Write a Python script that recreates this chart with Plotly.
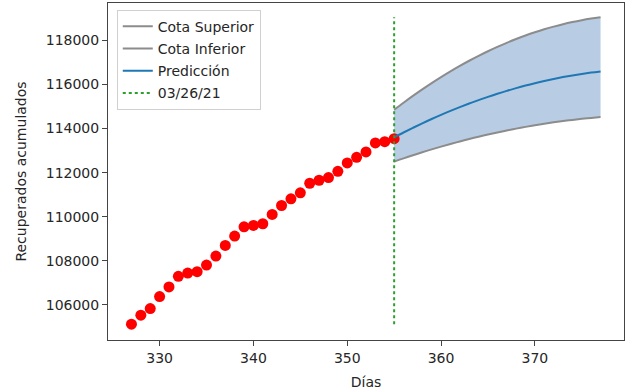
import plotly.graph_objects as go

# Observed data
dias = list(range(327, 356))
recuperados = [105117, 105525, 105828, 106371, 106807, 107291, 107441, 107504,
               107803, 108210, 108695, 109116, 109540, 109600, 109678, 110099,
               110507, 110810, 111082, 111516, 111653, 111775, 112060, 112440,
               112695, 112940, 113347, 113406, 113541]

# Prediction
dias_pred = list(range(355, 378))
prediccion = [113600, 113820, 114032, 114236, 114432, 114620, 114800, 114972,
              115136, 115292, 115440, 115580, 115712, 115836, 115952, 116060,
              116160, 116252, 116336, 116412, 116480, 116540, 116592]
cota_superior = [114850, 115172, 115482, 115779, 116064, 116336, 116596, 116843,
                 117078, 117300, 117510, 117707, 117892, 118064, 118224, 118371,
                 118506, 118628, 118738, 118835, 118920, 118992, 119052]
cota_inferior = [112500, 112646, 112787, 112923, 113054, 113180, 113300, 113415,
                 113525, 113630, 113730, 113824, 113913, 113997, 114076, 114150,
                 114218, 114281, 114339, 114392, 114440, 114482, 114519]

fecha_corte = "03/26/21"
dia_corte = 355

x_ticks = [330, 340, 350, 360, 370]
y_ticks = [106000, 108000, 110000, 112000, 114000, 116000, 118000]

FONT = "DejaVu Sans"
fig = go.Figure()

# fill band
fig.add_trace(go.Scatter(x=dias_pred, y=cota_inferior, mode="lines",
                         line=dict(width=0, shape="spline"), showlegend=False, hoverinfo="skip"))
fig.add_trace(go.Scatter(x=dias_pred, y=cota_superior, mode="lines",
                         line=dict(width=0, shape="spline"), fill="tonexty",
                         fillcolor="rgb(184,205,228)", showlegend=False,
                         hoverinfo="skip"))

fig.add_trace(go.Scatter(x=dias_pred, y=cota_superior, mode="lines",
                         name="Cota Superior", legendgroup="a",
                         line=dict(color="#8c8c8c", width=2, shape="spline")))
fig.add_trace(go.Scatter(x=dias_pred, y=cota_inferior, mode="lines",
                         name="Cota Inferior", legendgroup="b",
                         line=dict(color="#8c8c8c", width=2, shape="spline")))

fig.add_trace(go.Scatter(x=dias, y=recuperados, mode="markers",
                         marker=dict(color="red", size=11), showlegend=False))

fig.add_trace(go.Scatter(x=dias_pred, y=prediccion, mode="lines",
                         name="Predicción", legendgroup="c",
                         line=dict(color="#1f77b4", width=2, shape="spline")))

vmin = min(recuperados)
vmax = max(cota_superior)
fig.add_trace(go.Scatter(x=[dia_corte, dia_corte], y=[vmin, vmax], mode="lines",
                         name=fecha_corte, legendgroup="d",
                         line=dict(color="#2ca02c", width=2, dash="dot")))

axis_common = dict(showline=True, linecolor="#444", linewidth=1, mirror=True,
                   ticks="outside", ticklen=5, tickwidth=1, tickcolor="#444",
                   showgrid=False, zeroline=False, automargin=False,
                   tickfont=dict(family=FONT, size=14, color="#262626"))

fig.update_layout(
    width=626, height=392,
    margin=dict(l=108, r=2, t=3, b=52),
    paper_bgcolor="white", plot_bgcolor="white",
    font=dict(family=FONT, size=14, color="#262626"),
    xaxis=dict(range=[324.5, 379.5], tickvals=x_ticks, tickformat="d",
               title=dict(text="Días", font=dict(family=FONT, size=14), standoff=12),
               **axis_common),
    yaxis=dict(range=[104400, 119700], tickvals=y_ticks, tickformat="d",
               title=dict(text="Recuperados acumulados", font=dict(family=FONT, size=14), standoff=15),
               **axis_common),
    legend=dict(x=0.017, y=0.98, xanchor="left", yanchor="top",
                bgcolor="rgba(255,255,255,0.8)", bordercolor="#d0d0d0", borderwidth=1,
                font=dict(family=FONT, size=14, color="#262626"),
                traceorder="grouped", tracegroupgap=1),
    showlegend=True,
)

fig.write_html("out.html", config={"displayModeBar": False},
               post_script="document.body.style.margin='0';")
